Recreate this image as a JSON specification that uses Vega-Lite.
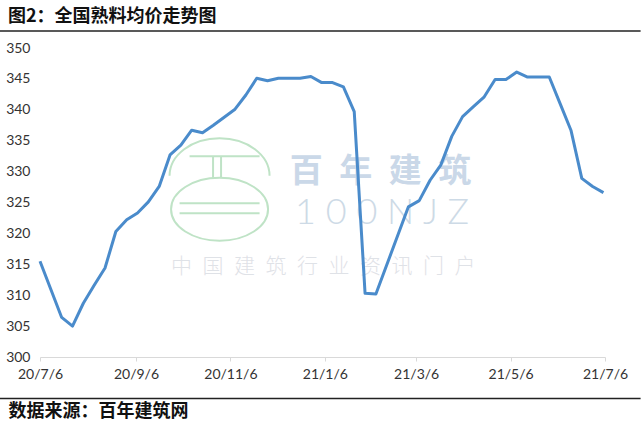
{
  "$schema": "https://vega.github.io/schema/vega-lite/v6.json",
  "width": 565,
  "height": 309,
  "autosize": {"type": "none"},
  "padding": {"left": 40, "top": 48, "right": 36, "bottom": 64},
  "background": "white",
  "config": {"view": {"stroke": null}},
  "title": {
    "text": "图2：全国熟料均价走势图",
    "anchor": "start",
    "frame": "group",
    "dx": -32,
    "dy": 14,
    "offset": 9,
    "baseline": "middle",
    "font": "Noto Sans CJK SC",
    "fontSize": 18,
    "fontWeight": "bold",
    "color": "#111111"
  },
  "encoding": {
    "x": {
      "field": "date",
      "type": "temporal",
      "scale": {"type": "utc", "domain": [{"year": 2020, "month": 7, "date": 6, "utc": true}, {"year": 2021, "month": 7, "date": 6, "utc": true}]},
      "axis": {
        "values": [
          {"year": 2020, "month": 7, "date": 6, "utc": true},
          {"year": 2020, "month": 9, "date": 6, "utc": true},
          {"year": 2020, "month": 11, "date": 6, "utc": true},
          {"year": 2021, "month": 1, "date": 6, "utc": true},
          {"year": 2021, "month": 3, "date": 6, "utc": true},
          {"year": 2021, "month": 5, "date": 6, "utc": true},
          {"year": 2021, "month": 7, "date": 6, "utc": true}
        ],
        "labelExpr": "utcFormat(datum.value, '%y/%-m/%-d')",
        "grid": false,
        "domainColor": "#d9d9d9",
        "tickColor": "#d9d9d9",
        "tickSize": 4,
        "labelPadding": 6,
        "labelFont": "Lato",
        "labelFontSize": 14,
        "labelColor": "#333333",
        "labelFlush": false,
        "labelOverlap": false,
        "title": "数据来源：百年建筑网",
        "titleX": -32,
        "titleY": 54,
        "titleAlign": "left",
        "titleAnchor": "start",
        "titleBaseline": "middle",
        "titleFont": "Noto Sans CJK SC",
        "titleFontSize": 18,
        "titleFontWeight": "bold",
        "titleColor": "#111111"
      }
    },
    "y": {
      "field": "value",
      "type": "quantitative",
      "scale": {"domain": [300, 350], "nice": false, "zero": false},
      "axis": {
        "values": [300, 305, 310, 315, 320, 325, 330, 335, 340, 345, 350],
        "grid": false,
        "domain": false,
        "ticks": false,
        "labelPadding": 10,
        "labelFont": "Lato",
        "labelFontSize": 14,
        "labelColor": "#333333",
        "labelOverlap": false,
        "title": null
      }
    }
  },
  "layer": [
    {
      "data": {"values": [{"date": "2020-10-30", "value": 326.9}]},
      "mark": {
        "type": "point",
        "shape": "M -1 -0.3 A 1 0.75 0 0 1 1 -0.3 M -0.6 -0.69 L 0.8 -0.69 M -0.13 -0.69 L -0.13 -0.26 M 0.03 -0.69 L 0.03 -0.26 M -0.97 0.37 A 0.97 0.63 0 1 0 0.97 0.37 A 0.97 0.63 0 1 0 -0.97 0.37 M -0.8 0.25 L 0.8 0.25 M -0.8 0.45 L 0.8 0.45",
        "size": 10000,
        "filled": false,
        "stroke": "#bfe3c6",
        "strokeWidth": 2,
        "opacity": 1
      }
    },
    {
      "data": {"values": [{"date": "2021-02-11", "value": 330.0, "label": "百\u2002年\u2002建\u2002筑"}]},
      "mark": {"type": "text", "font": "Noto Sans CJK SC", "fontSize": 33, "fontWeight": "bold", "color": "#cad8e8", "align": "center", "baseline": "middle"},
      "encoding": {"text": {"field": "label"}}
    },
    {
      "data": {"values": [{"date": "2021-02-12", "value": 323.3, "label": "1 0 0 N J Z"}]},
      "mark": {"type": "text", "font": "Lato", "fontSize": 36, "fontWeight": 300, "color": "#cddae6", "align": "center", "baseline": "middle"},
      "encoding": {"text": {"field": "label"}}
    },
    {
      "data": {"values": [{"date": "2021-01-05", "value": 314.6, "label": "中\u2002国\u2002建\u2002筑\u2002行\u2002业\u2002资\u2002讯\u2002门\u2002户"}]},
      "mark": {"type": "text", "font": "Noto Sans CJK SC", "fontSize": 21, "fontWeight": 300, "color": "#dfe2e7", "align": "center", "baseline": "middle"},
      "encoding": {"text": {"field": "label"}}
    },
    {
      "data": {"values": [
        {"date": "2020-07-06", "value": 315.5},
        {"date": "2020-07-20", "value": 306.4},
        {"date": "2020-07-27", "value": 305.0},
        {"date": "2020-08-03", "value": 308.7},
        {"date": "2020-08-10", "value": 311.6},
        {"date": "2020-08-17", "value": 314.4},
        {"date": "2020-08-24", "value": 320.3},
        {"date": "2020-08-31", "value": 322.2},
        {"date": "2020-09-07", "value": 323.3},
        {"date": "2020-09-14", "value": 325.1},
        {"date": "2020-09-21", "value": 327.6},
        {"date": "2020-09-28", "value": 332.7},
        {"date": "2020-10-05", "value": 334.3},
        {"date": "2020-10-12", "value": 336.7},
        {"date": "2020-10-19", "value": 336.3},
        {"date": "2020-10-26", "value": 337.5},
        {"date": "2020-11-02", "value": 338.8},
        {"date": "2020-11-09", "value": 340.1},
        {"date": "2020-11-16", "value": 342.4},
        {"date": "2020-11-23", "value": 345.1},
        {"date": "2020-11-30", "value": 344.7},
        {"date": "2020-12-07", "value": 345.1},
        {"date": "2020-12-14", "value": 345.1},
        {"date": "2020-12-21", "value": 345.1},
        {"date": "2020-12-28", "value": 345.4},
        {"date": "2021-01-04", "value": 344.4},
        {"date": "2021-01-11", "value": 344.4},
        {"date": "2021-01-18", "value": 343.7},
        {"date": "2021-01-25", "value": 339.7},
        {"date": "2021-02-01", "value": 310.3},
        {"date": "2021-02-08", "value": 310.2},
        {"date": "2021-03-01", "value": 324.3},
        {"date": "2021-03-08", "value": 325.3},
        {"date": "2021-03-15", "value": 328.6},
        {"date": "2021-03-22", "value": 331.1},
        {"date": "2021-03-29", "value": 335.7},
        {"date": "2021-04-05", "value": 338.9},
        {"date": "2021-04-12", "value": 340.5},
        {"date": "2021-04-19", "value": 342.1},
        {"date": "2021-04-26", "value": 344.9},
        {"date": "2021-05-03", "value": 344.9},
        {"date": "2021-05-10", "value": 346.1},
        {"date": "2021-05-17", "value": 345.3},
        {"date": "2021-05-24", "value": 345.3},
        {"date": "2021-05-31", "value": 345.3},
        {"date": "2021-06-07", "value": 341.0},
        {"date": "2021-06-14", "value": 336.7},
        {"date": "2021-06-21", "value": 328.9},
        {"date": "2021-06-28", "value": 327.6},
        {"date": "2021-07-05", "value": 326.6}
      ]},
      "mark": {"type": "line", "color": "#4a8bcb", "strokeWidth": 3, "strokeJoin": "round"}
    },
    {
      "data": {"values": [{"date": "2020-06-10", "date2": "2021-07-29", "value": 352.75}, {"date": "2020-06-10", "date2": "2021-07-29", "value": 293.3}]},
      "mark": {"type": "rule", "color": "#222222", "strokeWidth": 1.5, "clip": false},
      "encoding": {"x2": {"field": "date2"}}
    }
  ]
}
